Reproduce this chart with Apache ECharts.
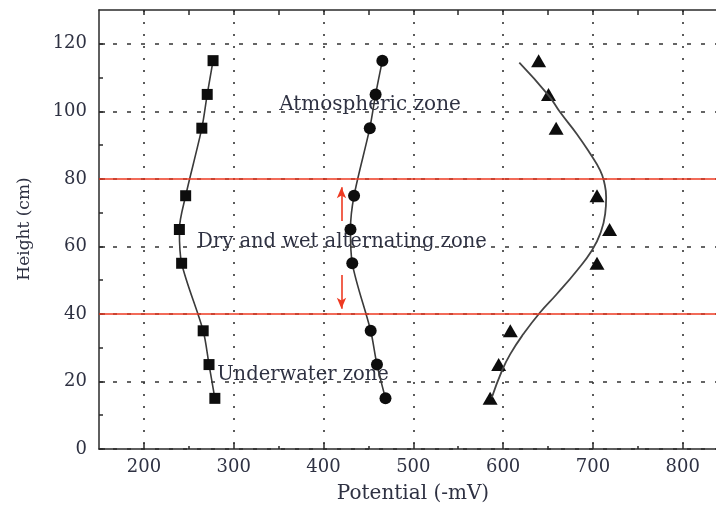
<!DOCTYPE html>
<html>
<head>
<meta charset="utf-8">
<script src="https://cdn.jsdelivr.net/npm/echarts@6/dist/echarts.min.js"></script>
<style>html,body{margin:0;padding:0;background:#fff}#c{width:716px;height:506px}</style>
</head>
<body>
<div id="c"></div>
<script>
// ---- data ----
const heights = [115, 105, 95, 75, 65, 55, 35, 25, 15];
const squareX = [277, 270.5, 264.5, 246.5, 239.5, 242, 266, 272.5, 279];
const circleX = [465.5, 458, 451.5, 434, 430, 432, 452.5, 459.5, 469];
const triangleX = [639.5, 650.5, 659, 704.5, 718.5, 704.5, 608, 595, 585.5];
const fitH = [114.4, 104.7, 99.7, 93.3, 87.4, 82.5, 79, 74.5, 69.6, 63.7, 58.8, 52.8, 45.9, 40.5, 34.1, 28.1, 23.2, 15.3];
const fitX = [618, 650.5, 663.5, 682, 697, 708, 712.5, 714.7, 713.6, 708, 698.8, 682, 659.8, 641.3, 622.7, 607.9, 598.7, 587.5];
const xMajor = [200, 300, 400, 500, 600, 700, 800];
const xMinor = [250, 350, 450, 550, 650, 750];
const xTop = [200, 250, 300, 350, 400, 450, 500, 550, 600, 650, 700, 750, 800];
const yMajor = [0, 20, 40, 60, 80, 100, 120];
const yMinor = [10, 30, 50, 70, 90, 110];
const zoneLines = [80, 40];
const arrowUp = [[420, 67.5], [420, 77.5]];
const arrowDown = [[420, 51.5], [420, 41.5]];

const pairs = (xs, ys) => xs.map((x, i) => [x, ys[i]]);

const FONT = 'DejaVu Serif';
const TXT = '#2e3142';
const AX = '#2a2a2a';
const RED = '#ee3a22';

const chart = echarts.init(document.getElementById('c'));
const baseX = {type: 'value', min: 150, max: 837};
const baseY = {type: 'value', min: 0, max: 130};
chart.setOption({
  animation: false,
  grid: {left: 99, right: 0, top: 10, bottom: 57},
  xAxis: [
    Object.assign({}, baseX, {
      position: 'bottom',
      axisLine: {show: true, onZero: false, lineStyle: {color: AX, width: 1.5}},
      axisTick: {show: true, inside: true, length: 6, customValues: xMajor, lineStyle: {color: AX, width: 1.5}},
      axisLabel: {customValues: xMajor, margin: 9, fontFamily: FONT, fontSize: 18, color: TXT},
      splitLine: {show: true, lineStyle: {color: '#333', width: 1.6, type: [2, 10]}}
    }),
    Object.assign({}, baseX, {
      position: 'bottom',
      axisLine: {show: false, onZero: false},
      axisTick: {show: true, inside: true, length: 3, customValues: xMinor, lineStyle: {color: AX, width: 1.5}},
      axisLabel: {show: false},
      splitLine: {show: false}
    }),
    Object.assign({}, baseX, {
      position: 'top',
      axisLine: {show: true, onZero: false, lineStyle: {color: AX, width: 1.5}},
      axisTick: {show: true, inside: true, length: 5, customValues: xTop, lineStyle: {color: AX, width: 1.5}},
      axisLabel: {show: false},
      splitLine: {show: false}
    })
  ],
  yAxis: [
    Object.assign({}, baseY, {
      position: 'left',
      axisLine: {show: true, onZero: false, lineStyle: {color: AX, width: 1.5}},
      axisTick: {show: true, inside: true, length: 6, customValues: yMajor, lineStyle: {color: AX, width: 1.5}},
      axisLabel: {customValues: yMajor, margin: 12, fontFamily: FONT, fontSize: 18, color: TXT},
      splitLine: {show: true, lineStyle: {color: '#333', width: 1.6, type: [4, 10]}}
    }),
    Object.assign({}, baseY, {
      position: 'left',
      axisLine: {show: false, onZero: false},
      axisTick: {show: true, inside: true, length: 4, customValues: yMinor, lineStyle: {color: AX, width: 1.5}},
      axisLabel: {show: false},
      splitLine: {show: false}
    })
  ],
  graphic: [
    {type: 'text', x: 370, y: 105, style: {text: 'Atmospheric zone', font: '20px "DejaVu Serif"', fill: TXT, align: 'center', verticalAlign: 'middle'}},
    {type: 'text', x: 342, y: 242, style: {text: 'Dry and wet alternating zone', font: '19.5px "DejaVu Serif"', fill: TXT, align: 'center', verticalAlign: 'middle'}},
    {type: 'text', x: 303, y: 375, style: {text: 'Underwater zone', font: '19.5px "DejaVu Serif"', fill: TXT, align: 'center', verticalAlign: 'middle'}},
    {type: 'text', x: 413, y: 494, style: {text: 'Potential (-mV)', font: '20px "DejaVu Serif"', fill: TXT, align: 'center', verticalAlign: 'middle'}},
    {type: 'text', x: 25, y: 229, rotation: Math.PI / 2, style: {text: 'Height (cm)', font: '17px "DejaVu Serif"', fill: TXT, align: 'center', verticalAlign: 'middle'}}
  ],
  series: [
    {
      type: 'line', name: 'zones', data: [], xAxisIndex: 0, yAxisIndex: 0, silent: true,
      markLine: {
        silent: true, animation: false, symbol: 'none',
        label: {show: false},
        lineStyle: {color: RED, width: 1.6, type: 'solid'},
        data: zoneLines.map(v => ({yAxis: v}))
          .concat([
            [{coord: arrowUp[0], symbol: 'none'}, {coord: arrowUp[1], symbol: 'arrow', symbolSize: [7, 11]}],
            [{coord: arrowDown[0], symbol: 'none'}, {coord: arrowDown[1], symbol: 'arrow', symbolSize: [7, 11]}]
          ])
      }
    },
    {
      type: 'line', name: 'square', data: pairs(squareX, heights), smooth: 0.3,
      symbol: 'rect', symbolSize: 11, showAllSymbol: true,
      itemStyle: {color: '#0d0d0d'}, lineStyle: {color: '#3a3a3a', width: 1.6}
    },
    {
      type: 'line', name: 'circle', data: pairs(circleX, heights), smooth: 0.3,
      symbol: 'circle', symbolSize: 12, showAllSymbol: true,
      itemStyle: {color: '#0d0d0d'}, lineStyle: {color: '#3a3a3a', width: 1.6}
    },
    {
      type: 'line', name: 'fit', data: pairs(fitX, fitH), smooth: 0.5,
      symbol: 'none', lineStyle: {color: '#444', width: 1.8}
    },
    {
      type: 'scatter', name: 'triangle', data: pairs(triangleX, heights),
      symbol: 'triangle', symbolSize: [15, 13],
      itemStyle: {color: '#0d0d0d', opacity: 1}
    }
  ]
});
</script>
</body>
</html>
